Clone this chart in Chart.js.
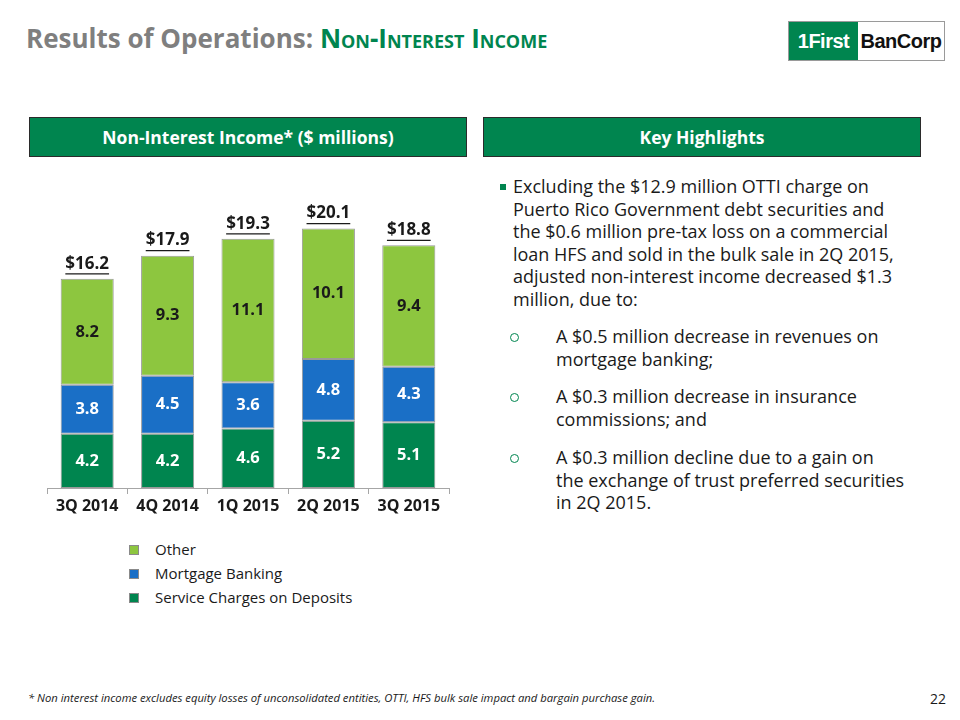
<!DOCTYPE html>
<html>
<head>
<meta charset="utf-8">
<script src="https://cdn.jsdelivr.net/npm/chart.js@4.4.0/dist/chart.umd.min.js"></script>
<style>
    body { margin: 0; width: 960px; height: 720px; background: #fff; position: relative; overflow: hidden; font-family: "Open Sans", Lato, sans-serif; color: #1a1a1a; }
    .abs { position: absolute; }
    #title { left: 26px; top: 20px; font-size: 26px; font-weight: bold; color: #7f7f7f; white-space: nowrap; }
    #title span { color: #00854f; font-variant: small-caps; }
    .hdr { top: 117px; height: 38px; background: #00854f; border: 1px solid #2b2b2b; color: #fff; font-weight: bold; font-size: 17.5px; line-height: 38px; text-align: center; }
    #logo { left: 788px; top: 21px; width: 157px; height: 40px; border: 1px solid #9a9a9a; box-sizing: border-box; display: flex; font-family: "Liberation Sans", Arial, sans-serif; font-weight: bold; font-size: 20px; letter-spacing: -0.5px; }
    #logo .g { background: #00854f; color: #fff; width: 69px; line-height: 38px; text-align: center; }
    #logo .w { flex: 1; color: #111; line-height: 38px; text-align: center; }
    #chartBox { left: 30px; top: 175px; width: 440px; height: 345px; }
    .leg { left: 129px; font-size: 15px; height: 20px; line-height: 20px; }
    .leg i { position: absolute; left: 0; top: 6px; width: 8px; height: 8px; border: 1px solid #8a8a8a; }
    .leg b { position: absolute; left: 26px; font-weight: normal; white-space: nowrap; }
    .txt { font-size: 18px; line-height: 22.5px; white-space: nowrap; }
    .sq { left: 500px; top: 184px; width: 6px; height: 6px; background: #00854f; }
    .circ { width: 7px; height: 7px; border: 1px solid #00854f; border-radius: 50%; left: 510px; }
    #foot { left: 28px; top: 690px; font-size: 11.25px; font-style: italic; white-space: nowrap; }
    #page { left: 930px; top: 689px; font-size: 14px; }
</style>
</head>
<body>
<div id="title" class="abs">Results of Operations: <span>Non-Interest Income</span></div>
<div id="logo" class="abs"><div class="g">1First</div><div class="w">BanCorp</div></div>
<div class="abs hdr" style="left:29px;width:436px;">Non-Interest Income* ($ millions)</div>
<div class="abs hdr" style="left:483px;width:436px;">Key Highlights</div>

<div id="chartBox" class="abs"><canvas id="incomeChart"></canvas></div>
<div id="legend"></div>

<div class="abs sq"></div>
<div class="abs txt" style="left:513px;top:175px;">Excluding the $12.9 million OTTI charge on<br>Puerto Rico Government debt securities and<br>the $0.6 million pre-tax loss on a commercial<br>loan HFS and sold in the bulk sale in 2Q 2015,<br>adjusted non-interest income decreased $1.3<br>million, due to:</div>
<div class="abs circ" style="top:333px;"></div>
<div class="abs txt" style="left:556px;top:325px;">A $0.5 million decrease in revenues on<br>mortgage banking;</div>
<div class="abs circ" style="top:393px;"></div>
<div class="abs txt" style="left:556px;top:385px;">A $0.3 million decrease in insurance<br>commissions; and</div>
<div class="abs circ" style="top:454px;"></div>
<div class="abs txt" style="left:556px;top:446px;">A $0.3 million decline due to a gain on<br>the exchange of trust preferred securities<br>in 2Q 2015.</div>

<div id="foot" class="abs">* Non interest income excludes equity losses of unconsolidated entities, OTTI, HFS bulk sale impact and bargain purchase gain.</div>
<div id="page" class="abs">22</div>

<script>
// Non-interest income by quarter ($ millions)
const quarters = ['3Q 2014', '4Q 2014', '1Q 2015', '2Q 2015', '3Q 2015'];
const serviceCharges = [4.2, 4.2, 4.6, 5.2, 5.1];
const mortgageBanking = [3.8, 4.5, 3.6, 4.8, 4.3];
const other = [8.2, 9.3, 11.1, 10.1, 9.4];
const totals = [16.2, 17.9, 19.3, 20.1, 18.8];

const seriesNames = ['Service Charges on Deposits', 'Mortgage Banking', 'Other'];
const seriesColors = ['#00854f', '#1a6fc6', '#8dc63f'];
const labelColors = ['#ffffff', '#ffffff', '#1a1a1a'];

// segment values inside bars + underlined totals on top
const barLabels = {
    id: 'barLabels',
    afterDatasetsDraw(chart) {
        const ctx = chart.ctx;
        ctx.save();
        ctx.textAlign = 'center';
        ctx.textBaseline = 'middle';
        ctx.font = 'bold 16.5px "Open Sans"';
        chart.data.datasets.forEach((ds, i) => {
            chart.getDatasetMeta(i).data.forEach((bar, j) => {
                const p = bar.getProps(['x', 'y', 'base'], true);
                ctx.fillStyle = labelColors[i];
                ctx.fillText(ds.data[j].toFixed(1), p.x, (p.y + p.base) / 2);
            });
        });
        const topMeta = chart.getDatasetMeta(chart.data.datasets.length - 1);
        ctx.font = 'bold 17px "Open Sans"';
        ctx.fillStyle = '#1a1a1a';
        ctx.strokeStyle = '#1a1a1a';
        ctx.lineWidth = 1.2;
        topMeta.data.forEach((bar, j) => {
            const label = '$' + totals[j].toFixed(1);
            const y = bar.y - 15;
            ctx.fillText(label, bar.x, y);
            const w = ctx.measureText(label).width;
            ctx.beginPath();
            ctx.moveTo(bar.x - w / 2, y + 10);
            ctx.lineTo(bar.x + w / 2, y + 10);
            ctx.stroke();
        });
        ctx.restore();
    }
};

const ctx = document.getElementById('incomeChart').getContext('2d');
new Chart(ctx, {
    type: 'bar',
    data: {
        labels: quarters,
        datasets: [serviceCharges, mortgageBanking, other].map((d, i) => ({
            label: seriesNames[i],
            data: d,
            backgroundColor: seriesColors[i],
            borderColor: 'rgba(110,110,110,0.7)',
            borderWidth: 1,
            borderSkipped: false,
            categoryPercentage: 0.66,
            barPercentage: 1
        }))
    },
    options: {
        responsive: true,
        maintainAspectRatio: false,
        animation: false,
        layout: { padding: { left: 17, right: 21, top: 29, bottom: 0 } },
        plugins: {
            legend: { display: false },
            tooltip: { enabled: false }
        },
        scales: {
            x: {
                stacked: true,
                afterFit: (s) => { s.height = 32; },
                border: { color: '#a6a6a6', width: 1 },
                grid: { drawOnChartArea: false, drawTicks: true, tickLength: 6, color: '#a6a6a6' },
                ticks: { color: '#1a1a1a', font: { family: 'Open Sans', size: 16, weight: 'bold' }, padding: 3 }
            },
            y: {
                stacked: true,
                display: false,
                min: 0,
                max: 22
            }
        }
    },
    plugins: [barLabels]
});

// legend, top series first
const legend = document.getElementById('legend');
const legendTops = [539, 563, 587];
[2, 1, 0].forEach((s, k) => {
    const row = document.createElement('div');
    row.className = 'abs leg';
    row.style.top = legendTops[k] + 'px';
    row.innerHTML = '<i style="background:' + seriesColors[s] + '"></i><b>' + seriesNames[s] + '</b>';
    legend.appendChild(row);
});
</script>
</body>
</html>
